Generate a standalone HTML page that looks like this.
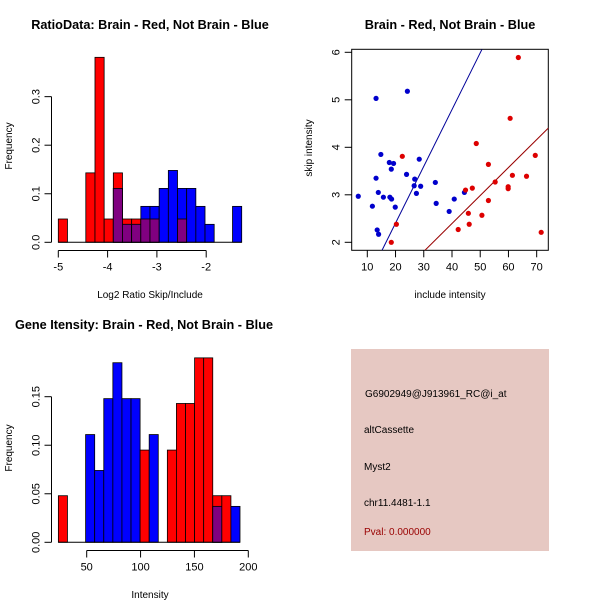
<!DOCTYPE html>
<html><head><meta charset="utf-8"><style>
html,body{margin:0;padding:0;background:#fff}
svg{display:block;font-family:"Liberation Sans",sans-serif}
</style></head><body>
<svg id="c" width="600" height="600" xmlns="http://www.w3.org/2000/svg">
<rect x="0" y="0" width="600" height="600" fill="#fff"/>
<text x="150" y="29" text-anchor="middle" font-size="12.7" font-weight="bold">RatioData: Brain - Red, Not Brain - Blue</text>
<text x="450" y="29" text-anchor="middle" font-size="12.7" font-weight="bold">Brain - Red, Not Brain - Blue</text>
<text x="144" y="329" text-anchor="middle" font-size="12.7" font-weight="bold">Gene Itensity: Brain - Red, Not Brain - Blue</text>
<text x="150" y="298" text-anchor="middle" font-size="10">Log2 Ratio Skip/Include</text>
<text x="12" y="146" text-anchor="middle" font-size="10" transform="rotate(-90 12 146)">Frequency</text>
<text x="450" y="298" text-anchor="middle" font-size="10">include intensity</text>
<text x="312" y="148" text-anchor="middle" font-size="10" transform="rotate(-90 312 148)">skip intensity</text>
<text x="150" y="598" text-anchor="middle" font-size="10">Intensity</text>
<text x="12" y="448" text-anchor="middle" font-size="10" transform="rotate(-90 12 448)">Frequency</text>
<g id="p1"></g><g id="p2"></g><g id="p3"></g>
<rect x="351" y="349" width="198" height="202" fill="#e6c8c2"/>
<g font-size="10">
<text x="365" y="397">G6902949@J913961_RC@i_at</text>
<text x="364" y="433">altCassette</text>
<text x="364" y="470">Myst2</text>
<text x="364" y="506">chr11.4481-1.1</text>
<text x="364" y="535" fill="#990000">Pval: 0.000000</text>
</g>
</svg>
<script>
// Ratio histogram data
const ratioBinStart = -5.0;
const ratioBinWidth = 0.186;
const ratioRed = [0.048,0,0,0.143,0.381,0.048,0.143,0.048,0.048,0.048,0.048,0,0,0.048,0,0,0,0,0,0];
const ratioBlue = [0,0,0,0,0,0,0.111,0.037,0.037,0.074,0.074,0.111,0.148,0.111,0.111,0.074,0.037,0,0,0.074];
const ratioXTicks = [-5,-4,-3,-2];
const ratioYTicks = [0.0,0.1,0.2,0.3];
const ratioYLabels = ["0.0","0.1","0.2","0.3"];
// Gene intensity histogram data
const geneBinStart = 23.7;
const geneBinWidth = 8.43;
const geneRed = [0.048,0,0,0,0,0,0,0,0,0.095,0,0,0.095,0.143,0.143,0.190,0.190,0.048,0.048,0];
const geneBlue = [0,0,0,0.111,0.074,0.148,0.185,0.148,0.148,0,0.111,0,0,0,0,0,0,0.037,0,0.037];
const geneXTicks = [50,100,150,200];
const geneYTicks = [0,0.05,0.10,0.15];
const geneYLabels = ["0.00","0.05","0.10","0.15"];
// Scatter data
const blueX = [6.8,13.1,24.2,14.8,13.1,13.9,11.8,13.5,14.0,15.7,17.8,19.3,18.5,18.0,18.6,19.9,23.9,26.8,26.6,28.4,28.9,27.4,34.1,34.4,39.0,40.8,44.4];
const blueY = [2.97,5.03,5.18,3.85,3.35,3.05,2.76,2.26,2.17,2.95,3.68,3.66,3.54,2.95,2.91,2.74,3.43,3.33,3.19,3.75,3.18,3.03,3.26,2.82,2.65,2.91,3.05];
const redX = [18.5,20.3,22.4,42.2,44.8,45.8,46.1,47.2,48.6,50.6,52.9,52.9,55.3,59.9,59.9,60.6,61.4,63.5,66.4,69.5,71.6];
const redY = [2.0,2.38,3.81,2.27,3.10,2.61,2.38,3.14,4.08,2.57,3.64,2.88,3.27,3.17,3.13,4.61,3.41,5.89,3.39,3.83,2.21];
const blueLine = [15.2,1.83,50.6,6.06];
const redLine = [30.4,1.83,74.2,4.41];
const scatterXTicks = [10,20,30,40,50,60,70];
const scatterYTicks = [2,3,4,5,6];

const NS="http://www.w3.org/2000/svg";
function mk(parent,tag,attrs){const e=document.createElementNS(NS,tag);for(const k in attrs)e.setAttribute(k,attrs[k]);parent.appendChild(e);return e;}

function hist(g,name,bs,bw,red,blue,xs,ys,xt,yt,yl,axY,axX){
  for(let i=0;i<red.length;i++){
    const x0=xs(bs+i*bw),x1=xs(bs+(i+1)*bw);
    const r=red[i],b=blue[i];
    if(r>0){const e=mk(g,'rect',{x:x0,y:ys(r),width:x1-x0,height:ys(0)-ys(r),fill:'#ff0000',stroke:'#000','stroke-width':0.8});
      
      }
    if(b>0){const e=mk(g,'rect',{x:x0,y:ys(b),width:x1-x0,height:ys(0)-ys(b),fill:'#0000ff',stroke:'#000','stroke-width':0.8});
      
      }
    const m=Math.min(r,b);
    if(m>0){const e=mk(g,'rect',{x:x0,y:ys(m),width:x1-x0,height:ys(0)-ys(m),fill:'#800080',stroke:'#000','stroke-width':0.8});
      
      }
  }
  mk(g,'line',{x1:xs(bs),x2:xs(bs+red.length*bw),y1:ys(0),y2:ys(0),stroke:'#000'});
  const ya=mk(g,'g',{});
  
  
  mk(ya,'line',{x1:axY,x2:axY,y1:ys(yt[0]),y2:ys(yt[yt.length-1]),stroke:'#000'});
  yt.forEach((v,i)=>{mk(ya,'line',{x1:axY-7,x2:axY,y1:ys(v),y2:ys(v),stroke:'#000'});
    const t=mk(ya,'text',{x:axY-12,y:ys(v),'font-size':11,'text-anchor':'middle',transform:`rotate(-90 ${axY-12} ${ys(v)})`});t.textContent=yl[i];});
  const xa=mk(g,'g',{});
  
  
  mk(xa,'line',{x1:xs(xt[0]),x2:xs(xt[xt.length-1]),y1:axX,y2:axX,stroke:'#000'});
  xt.forEach(v=>{mk(xa,'line',{x1:xs(v),x2:xs(v),y1:axX,y2:axX+7,stroke:'#000'});
    const t=mk(xa,'text',{x:xs(v),y:axX+20,'font-size':11,'text-anchor':'middle'});t.textContent=String(v);});
}

const p1=document.getElementById('p1');


hist(p1,'ratio',ratioBinStart,ratioBinWidth,ratioRed,ratioBlue,
  v=>58.3+(v+5)*49.3, v=>242.3-v*485.5, ratioXTicks,ratioYTicks,ratioYLabels,51.5,250.5);

const p3=document.getElementById('p3');


hist(p3,'gene',geneBinStart,geneBinWidth,geneRed,geneBlue,
  v=>86.7+(v-50)*1.0773, v=>542.3-v*970.7, geneXTicks,geneYTicks,geneYLabels,51.5,550.5);

const p2=document.getElementById('p2');


const sx=v=>367.3+(v-10)*2.823, sy=v=>242.3-(v-2)*47.5;
const clip=mk(p2,'clipPath',{id:'sc'});mk(clip,'rect',{x:351.7,y:49.3,width:196.6,height:201});
const bx=mk(p2,'rect',{x:351.7,y:49.3,width:196.6,height:201,fill:'none',stroke:'#000'});


const ln1=mk(p2,'line',{x1:sx(blueLine[0]),y1:sy(blueLine[1]),x2:sx(blueLine[2]),y2:sy(blueLine[3]),stroke:'#000099','clip-path':'url(#sc)'});


const ln2=mk(p2,'line',{x1:sx(redLine[0]),y1:sy(redLine[1]),x2:sx(redLine[2]),y2:sy(redLine[3]),stroke:'#990000','clip-path':'url(#sc)'});


blueX.forEach((x,i)=>{const c=mk(p2,'circle',{cx:sx(x),cy:sy(blueY[i]),r:2.6,fill:'#0000cc'});
  
  });
redX.forEach((x,i)=>{const c=mk(p2,'circle',{cx:sx(x),cy:sy(redY[i]),r:2.6,fill:'#dd0000'});
  
  });
const sya=mk(p2,'g',{});


scatterYTicks.forEach(v=>{mk(sya,'line',{x1:344.7,x2:351.7,y1:sy(v),y2:sy(v),stroke:'#000'});
  const t=mk(sya,'text',{x:339.5,y:sy(v),'font-size':11,'text-anchor':'middle',transform:`rotate(-90 339.5 ${sy(v)})`});t.textContent=String(v);});
const sxa=mk(p2,'g',{});


scatterXTicks.forEach(v=>{mk(sxa,'line',{x1:sx(v),x2:sx(v),y1:250.3,y2:257.3,stroke:'#000'});
  const t=mk(sxa,'text',{x:sx(v),y:270.5,'font-size':11,'text-anchor':'middle'});t.textContent=String(v);});
</script>
</body></html>
